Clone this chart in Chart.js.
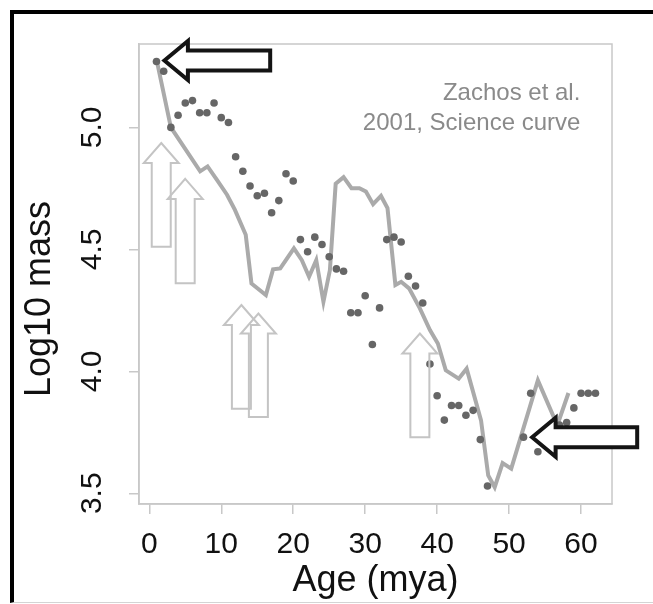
<!DOCTYPE html>
<html lang="en">
<head>
<meta charset="UTF-8">
<title>Log10 mass vs age</title>
<script src="https://cdn.jsdelivr.net/npm/chart.js"></script>
<style>
  body { margin: 0; background: #fff; }
  #wrap { position: relative; width: 653px; height: 604px; overflow: hidden; }
  #frame {
    position: absolute; left: 10px; top: 10px; right: 0; bottom: 1px;
    border-top: 4px solid #000; border-left: 4px solid #000; border-bottom: 1px solid #d4d4d4;
  }
  canvas { position: absolute; left: 0; top: 0; }
</style>
</head>
<body>
<div id="wrap">
  <div id="frame"></div>
  <canvas id="chart" width="653" height="604"></canvas>
</div>
<script>
// body mass points (age in mya, log10 mass)
const ages = [1, 2, 3, 4, 5, 6, 7, 8, 9, 10, 11, 12, 13, 14, 15, 16, 17, 18, 19, 20,
  21, 22, 23, 24, 25, 26, 27, 28, 29, 30, 31, 32, 33, 34, 35, 36, 37, 38, 39, 40,
  41, 42, 43, 44, 45, 46, 47, 52, 53, 54, 55, 57, 58, 59, 60, 61, 62];
const masses = [5.27, 5.23, 5.00, 5.05, 5.10, 5.11, 5.06, 5.06, 5.10, 5.04, 5.02, 4.88, 4.82, 4.76, 4.72, 4.73, 4.65, 4.70, 4.81, 4.78,
  4.54, 4.49, 4.55, 4.52, 4.47, 4.42, 4.41, 4.24, 4.24, 4.31, 4.11, 4.26, 4.54, 4.55, 4.53, 4.39, 4.35, 4.28, 4.03, 3.90,
  3.80, 3.86, 3.86, 3.82, 3.84, 3.72, 3.53, 3.73, 3.91, 3.67, 3.70, 3.78, 3.79, 3.85, 3.91, 3.91, 3.91];

// Zachos et al. 2001 curve, rescaled
const curveAges = [1.07, 3.0, 7.07, 8.1, 9.4, 10.8, 11.9, 13.4, 14.2, 16.2, 17.2, 18.2, 20.1, 21.2, 22.2, 23.2, 24.2, 25.1,
  25.9, 27.0, 28.1, 29.2, 30.1, 31.1, 32.2, 33.1, 34.2, 35.0, 36.1, 37.6, 39.0, 40.1, 41.2, 43.0, 44.1, 46.1,
  47.1, 48.0, 49.1, 50.3, 54.0, 56.7, 58.25];
const curveMasses = [5.27, 5.00, 4.82, 4.84, 4.785, 4.724, 4.662, 4.56, 4.36, 4.313, 4.418, 4.422, 4.504, 4.456, 4.388, 4.456, 4.285, 4.415,
  4.769, 4.796, 4.751, 4.751, 4.737, 4.685, 4.719, 4.669, 4.354, 4.367, 4.34, 4.258, 4.169, 4.114, 4.004, 3.97, 4.011, 3.799,
  3.573, 3.525, 3.624, 3.601, 3.963, 3.779, 3.911];

const xTicks = [0, 10, 20, 30, 40, 50, 60];
const yTicks = [3.5, 4.0, 4.5, 5.0];

// annotation arrows, in data units
const blackArrows = [
  { x: 2.1, y: 5.274, tailX: 16.8 },
  { x: 53.2, y: 3.73, tailX: 67.8 }
];
const grayArrows = [
  { x: 1.66, y: 4.936, tailY: 4.511 },
  { x: 4.99, y: 4.789, tailY: 4.361 },
  { x: 12.8, y: 4.272, tailY: 3.847 },
  { x: 15.16, y: 4.237, tailY: 3.813 },
  { x: 37.6, y: 4.155, tailY: 3.73 }
];
const noteLines = ['Zachos et al.', '2001, Science curve'];

Chart.defaults.font.family = '"Liberation Sans", Arial, sans-serif';

const axisGray = '#c8c8c8';

const boxPlugin = {
  id: 'box',
  beforeDatasetsDraw(chart) {
    const { ctx, chartArea: a } = chart;
    ctx.save();
    ctx.strokeStyle = axisGray;
    ctx.lineWidth = 1.5;
    ctx.strokeRect(a.left, a.top, a.right - a.left, a.bottom - a.top);
    ctx.restore();
  }
};

const notesPlugin = {
  id: 'notes',
  afterDatasetsDraw(chart) {
    const { ctx, scales: { x, y } } = chart;
    ctx.save();
    ctx.lineJoin = 'miter';

    // light gray up arrows
    ctx.strokeStyle = '#c4c4c4';
    ctx.lineWidth = 2;
    grayArrows.forEach(a => {
      const cx = x.getPixelForValue(a.x);
      const ty = y.getPixelForValue(a.y);
      const by = y.getPixelForValue(a.tailY);
      const hl = 20, hw = 17.5, bw = 9.5;
      ctx.beginPath();
      ctx.moveTo(cx, ty);
      ctx.lineTo(cx + hw, ty + hl);
      ctx.lineTo(cx + bw, ty + hl);
      ctx.lineTo(cx + bw, by);
      ctx.lineTo(cx - bw, by);
      ctx.lineTo(cx - bw, ty + hl);
      ctx.lineTo(cx - hw, ty + hl);
      ctx.closePath();
      ctx.stroke();
    });

    // black left arrows
    ctx.strokeStyle = '#141414';
    ctx.fillStyle = '#fff';
    ctx.lineWidth = 4;
    blackArrows.forEach(a => {
      const tx = x.getPixelForValue(a.x);
      const cy = y.getPixelForValue(a.y);
      const ex = x.getPixelForValue(a.tailX);
      const hl = 23.5, hw = 19.5, bw = 10;
      ctx.beginPath();
      ctx.moveTo(tx, cy);
      ctx.lineTo(tx + hl, cy - hw);
      ctx.lineTo(tx + hl, cy - bw);
      ctx.lineTo(ex, cy - bw);
      ctx.lineTo(ex, cy + bw);
      ctx.lineTo(tx + hl, cy + bw);
      ctx.lineTo(tx + hl, cy + hw);
      ctx.closePath();
      ctx.fill();
      ctx.stroke();
    });

    // source note
    ctx.fillStyle = '#8a8a8a';
    ctx.font = '24px "Liberation Sans", Arial, sans-serif';
    ctx.textAlign = 'right';
    ctx.textBaseline = 'alphabetic';
    const nx = x.getPixelForValue(59.9);
    ctx.fillText(noteLines[0], nx, y.getPixelForValue(5.114));
    ctx.fillText(noteLines[1], nx, y.getPixelForValue(4.988));
    ctx.restore();
  }
};

new Chart(document.getElementById('chart'), {
  type: 'scatter',
  data: {
    datasets: [{
      label: 'mass',
      data: ages.map((a, i) => ({ x: a, y: masses[i] })),
      pointRadius: 3.8,
      pointBackgroundColor: '#666666',
      pointBorderWidth: 0
    }, {
      label: 'Zachos',
      type: 'line',
      data: curveAges.map((a, i) => ({ x: a, y: curveMasses[i] })),
      borderColor: '#aaaaaa',
      borderWidth: 4,
      pointRadius: 0,
      tension: 0,
      fill: false
    }]
  },
  options: {
    responsive: false,
    animation: false,
    layout: { padding: { top: 44, right: 41, left: 0, bottom: 0 } },
    plugins: { legend: { display: false }, tooltip: { enabled: false } },
    scales: {
      x: {
        type: 'linear',
        min: -1.43,
        max: 64.3,
        afterBuildTicks: s => { s.ticks = xTicks.map(v => ({ value: v })); },
        afterFit: s => { s.height = 100; },
        grid: { drawOnChartArea: false, drawTicks: true, tickLength: 10, color: axisGray, lineWidth: 1.5 },
        border: { display: true, color: axisGray, width: 1.5 },
        ticks: {
          font: { size: 30 }, color: '#111', padding: 13,
          maxRotation: 0, autoSkip: false,
          callback: v => String(v)
        },
        title: {
          display: true, text: 'Age (mya)', color: '#111',
          font: { size: 36 }, padding: { top: 0, bottom: 1 }
        }
      },
      y: {
        type: 'linear',
        min: 3.456,
        max: 5.342,
        afterBuildTicks: s => { s.ticks = yTicks.map(v => ({ value: v })); },
        afterFit: s => { s.width = 139; },
        grid: { drawOnChartArea: false, drawTicks: true, tickLength: 10, color: axisGray, lineWidth: 1.5 },
        border: { display: true, color: axisGray, width: 1.5 },
        ticks: {
          font: { size: 30 }, color: '#111', padding: 15,
          minRotation: 90, maxRotation: 90, crossAlign: 'center', autoSkip: false,
          callback: v => v.toFixed(1)
        },
        title: {
          display: true, text: 'Log10 mass     ', color: '#111',
          font: { size: 36 }, padding: { top: 18, bottom: 0 }
        }
      }
    }
  },
  plugins: [boxPlugin, notesPlugin]
});
</script>
</body>
</html>
